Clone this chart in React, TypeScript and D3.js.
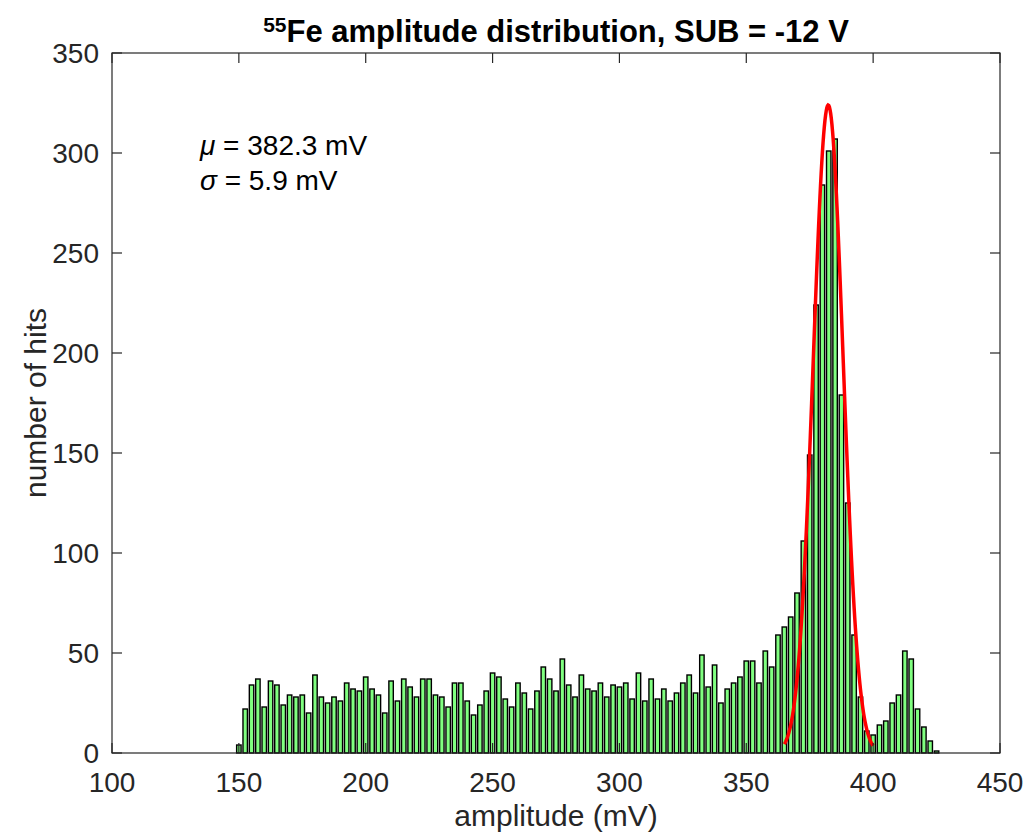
import React, { useEffect, useRef } from 'react';
import * as d3 from 'd3';

// histogram bin centres (mV) and counts
const binCenters: number[] = [
  140, 142.5, 145, 147.5, 150, 152.5, 155, 157.5, 160, 162.5, 165, 167.5, 170, 172.5, 175, 177.5,
  180, 182.5, 185, 187.5, 190, 192.5, 195, 197.5, 200, 202.5, 205, 207.5, 210, 212.5, 215, 217.5,
  220, 222.5, 225, 227.5, 230, 232.5, 235, 237.5, 240, 242.5, 245, 247.5, 250, 252.5, 255, 257.5,
  260, 262.5, 265, 267.5, 270, 272.5, 275, 277.5, 280, 282.5, 285, 287.5, 290, 292.5, 295, 297.5,
  300, 302.5, 305, 307.5, 310, 312.5, 315, 317.5, 320, 322.5, 325, 327.5, 330, 332.5, 335, 337.5,
  340, 342.5, 345, 347.5, 350, 352.5, 355, 357.5, 360, 362.5, 365, 367.5, 370, 372.5, 375, 377.5,
  380, 382.5, 385, 387.5, 390, 392.5, 395, 397.5, 400, 402.5, 405, 407.5, 410, 412.5, 415, 417.5,
  420, 422.5, 425, 427.5, 430, 432.5, 435, 437.5, 440,
];
const hits: number[] = [
  0, 0, 0, 0, 4, 22, 34, 37, 23, 36, 34, 24, 29, 28, 29, 20,
  39, 28, 25, 28, 26, 35, 32, 31, 38, 32, 29, 20, 36, 26, 37, 33,
  28, 37, 37, 29, 28, 23, 35, 35, 26, 19, 24, 31, 40, 38, 27, 23,
  35, 30, 22, 31, 43, 37, 31, 47, 34, 28, 39, 32, 31, 35, 28, 34,
  33, 35, 27, 40, 26, 37, 27, 32, 26, 30, 35, 39, 30, 49, 33, 44,
  25, 32, 35, 38, 46, 46, 35, 51, 43, 59, 63, 68, 80, 106, 149, 224,
  284, 301, 307, 179, 125, 59, 28, 11, 9, 14, 16, 25, 29, 51, 47, 22,
  13, 6, 1, 0, 0, 0, 0, 0, 0,
];
const binWidth = 2.5;

// gaussian fit shown in the figure
const fitMu = 382.3;
const fitSigma = 5.9;
const fitAmp = 324;
const fitRange: [number, number] = [365, 400];

const xTicks = [100, 150, 200, 250, 300, 350, 400, 450];
const yTicks = [0, 50, 100, 150, 200, 250, 300, 350];

const App = () => {
  const ref = useRef<SVGSVGElement>(null);

  useEffect(() => {
    const svg = d3.select(ref.current);
    svg.selectAll('*').remove();

    const width = 1026;
    const height = 832;
    const left = 112;
    const right = 1000;
    const top = 53;
    const bottom = 753;
    const axisColor = '#262626';
    const font = '"Liberation Sans", Arial, sans-serif';

    svg.append('rect').attr('width', width).attr('height', height).attr('fill', '#fff');

    const x = d3.scaleLinear().domain([100, 450]).range([left, right]);
    const y = d3.scaleLinear().domain([0, 350]).range([bottom, top]);

    // bars
    const barW = (x(binWidth) - x(0)) * 0.7;
    svg
      .append('g')
      .selectAll('rect')
      .data(binCenters)
      .join('rect')
      .attr('x', (d) => x(d) - barW / 2)
      .attr('y', (d, i) => y(hits[i]))
      .attr('width', barW)
      .attr('height', (d, i) => y(0) - y(hits[i]))
      .attr('fill', '#80ff80')
      .attr('stroke', '#000')
      .attr('stroke-width', 1.4);

    // fitted gaussian
    const fitX = d3.range(fitRange[0], fitRange[1] + 0.01, 0.25);
    const line = d3
      .line<number>()
      .x((d) => x(d))
      .y((d) => y(fitAmp * Math.exp(-((d - fitMu) ** 2) / (2 * fitSigma * fitSigma))));
    svg
      .append('path')
      .datum(fitX)
      .attr('d', line)
      .attr('fill', 'none')
      .attr('stroke', '#ff0000')
      .attr('stroke-width', 3.5);

    // axes box and ticks
    const tickLen = 10;
    const axes = svg.append('g').attr('stroke', axisColor).attr('stroke-width', 1.2);
    axes
      .append('rect')
      .attr('x', left)
      .attr('y', top)
      .attr('width', right - left)
      .attr('height', bottom - top)
      .attr('fill', 'none');
    xTicks.forEach((t) => {
      axes.append('line').attr('x1', x(t)).attr('x2', x(t)).attr('y1', bottom).attr('y2', bottom - tickLen);
      axes.append('line').attr('x1', x(t)).attr('x2', x(t)).attr('y1', top).attr('y2', top + tickLen);
    });
    yTicks.forEach((t) => {
      axes.append('line').attr('x1', left).attr('x2', left + tickLen).attr('y1', y(t)).attr('y2', y(t));
      axes.append('line').attr('x1', right).attr('x2', right - tickLen).attr('y1', y(t)).attr('y2', y(t));
    });

    const labels = svg.append('g').attr('font-family', font).attr('fill', axisColor);
    labels
      .selectAll('text.xt')
      .data(xTicks)
      .join('text')
      .attr('x', (d) => x(d))
      .attr('y', bottom + 39)
      .attr('text-anchor', 'middle')
      .attr('font-size', 28)
      .text((d) => d);
    labels
      .selectAll('text.yt')
      .data(yTicks)
      .join('text')
      .attr('x', left - 13)
      .attr('y', (d) => y(d) + 10)
      .attr('text-anchor', 'end')
      .attr('font-size', 28)
      .text((d) => d);

    // axis labels
    labels
      .append('text')
      .attr('x', (left + right) / 2)
      .attr('y', 826)
      .attr('text-anchor', 'middle')
      .attr('font-size', 30)
      .text('amplitude (mV)');
    labels
      .append('text')
      .attr('transform', `translate(46, ${(top + bottom) / 2}) rotate(-90)`)
      .attr('text-anchor', 'middle')
      .attr('font-size', 30)
      .text('number of hits');

    // title
    const title = svg
      .append('text')
      .attr('x', (left + right) / 2)
      .attr('y', 42)
      .attr('text-anchor', 'middle')
      .attr('font-family', font)
      .attr('font-weight', 'bold')
      .attr('font-size', 31)
      .attr('fill', '#000');
    title.append('tspan').attr('font-size', 21).attr('dy', -10).text('55');
    title.append('tspan').attr('dy', 10).text('Fe amplitude distribution, SUB = -12 V');

    // fit annotation
    const note = svg.append('g').attr('font-family', font).attr('font-size', 28).attr('fill', '#000');
    const t1 = note.append('text').attr('x', 200).attr('y', 155);
    t1.append('tspan').attr('font-style', 'italic').text('μ');
    t1.append('tspan').text(` = ${fitMu.toFixed(1)} mV`);
    const t2 = note.append('text').attr('x', 200).attr('y', 190);
    t2.append('tspan').attr('font-style', 'italic').text('σ');
    t2.append('tspan').text(` = ${fitSigma.toFixed(1)} mV`);
  }, []);

  return (
    <svg
      ref={ref}
      width={1026}
      height={832}
      style={{ position: 'absolute', left: 0, top: 0 }}
    />
  );
};

export default App;
